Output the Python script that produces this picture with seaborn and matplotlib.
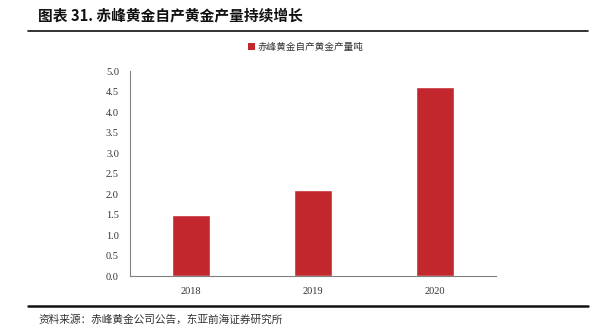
import matplotlib
matplotlib.use("Agg")
import matplotlib.pyplot as plt
import seaborn as sns
import pandas as pd
from matplotlib.lines import Line2D
from matplotlib.patches import Patch

years = ["2018", "2019", "2020"]
output = [1.5, 2.1, 4.6]
series_name = "赤峰黄金自产黄金产量吨"
yticks = [0.0, 0.5, 1.0, 1.5, 2.0, 2.5, 3.0, 3.5, 4.0, 4.5, 5.0]
title = "图表 31. 赤峰黄金自产黄金产量持续增长"
source = "资料来源：赤峰黄金公司公告，东亚前海证券研究所"

sns.set_style("white")
cjk = ["Noto Sans CJK SC", "DejaVu Sans"]
plt.rcParams["font.family"] = cjk

df = pd.DataFrame({"year": years, "value": output})
bar_color = "#C1272D"

fig = plt.figure(figsize=(6.0, 3.31), dpi=100)
ax = fig.add_axes([130/600, 1-276/331, 366/600, 205/331])
sns.barplot(data=df, x="year", y="value", color=bar_color, width=0.31,
            saturation=1, ax=ax)
ax.set_xlim(-0.5, 2.5)
ax.set_ylim(0, 5.0)
ax.set_yticks(yticks)
ax.set_yticklabels([f"{v:.1f}" for v in yticks])
ax.set_xlabel("")
ax.set_ylabel("")
for s in ["top", "right"]:
    ax.spines[s].set_visible(False)
for s in ["left", "bottom"]:
    ax.spines[s].set_color("#808080")
    ax.spines[s].set_linewidth(0.8)
ax.tick_params(axis="y", direction="in", length=3, width=0.8, color="#808080",
               labelsize=7.5, pad=8)
ax.tick_params(axis="x", length=0, labelsize=7.5, pad=8)
for lab in ax.get_yticklabels() + ax.get_xticklabels():
    lab.set_fontfamily(["Liberation Serif"])
    lab.set_color("#333333")

handles = [Patch(facecolor=bar_color, edgecolor="none", label=series_name)]
leg = fig.legend(handles=handles, loc="center left", bbox_to_anchor=(243/600, 1-47/331),
                 frameon=False, fontsize=6.9, handlelength=0.7, handleheight=0.7,
                 handletextpad=0.3, borderpad=0)
for t in leg.get_texts():
    t.set_color("#333333")

fig.text(38/600, 1-15/331, title, fontsize=10.6, fontweight="bold",
         va="center", ha="left", color="#111111")
fig.add_artist(Line2D([28/600, 588/600], [1-31/331, 1-31/331],
                      color="#111111", linewidth=1.2, transform=fig.transFigure))
fig.add_artist(Line2D([28/600, 588/600], [1-306/331, 1-306/331],
                      color="#111111", linewidth=1.8, transform=fig.transFigure))
fig.text(38/600, 1-320/331, source, fontsize=7.7, va="center", ha="left",
         color="#333333")

fig.savefig("out.png", dpi=100)
